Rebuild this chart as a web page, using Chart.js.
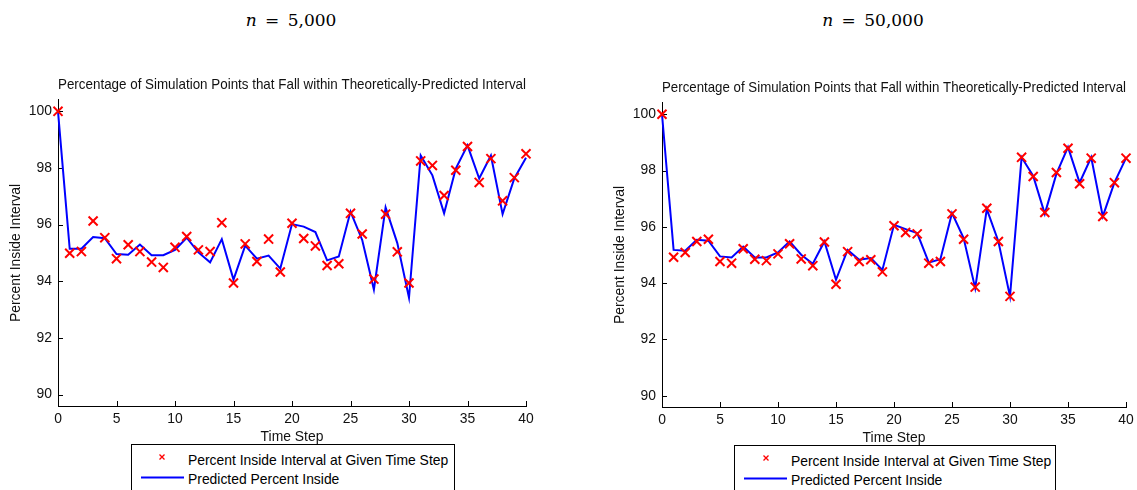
<!DOCTYPE html>
<html>
<head>
<meta charset="utf-8">
<script src="https://cdn.jsdelivr.net/npm/chart.js@4.4.1/dist/chart.umd.min.js"></script>
<style>
    body { margin: 0; background: #fff; width: 1137px; height: 490px; overflow: hidden; position: relative; font-family: "Liberation Sans", Arial, sans-serif; }
    canvas { position: absolute; }
    .nlabel { position: absolute; top: 10px; width: 200px; text-align: center; font-family: "DejaVu Serif", serif; font-size: 17px; color: #000; word-spacing: 3px; }
    .legend { position: absolute; border: 1px solid #000; height: 52px; font-size: 13.9px; line-height: 16px; color: #000; background: #fff; }
    .legend .row { position: absolute; left: 56px; white-space: nowrap; }
    .legend svg { position: absolute; }
</style>
</head>
<body>
<div class="nlabel" style="left:191px"><i>n</i> = 5,000</div>
<div class="nlabel" style="left:773px"><i>n</i> = 50,000</div>

<canvas id="chart5k" width="584" height="380" style="left:0px;top:70px"></canvas>
<canvas id="chart50k" width="580" height="378" style="left:604px;top:73px"></canvas>

<div class="legend" style="left:131px;top:444px;width:322px">
    <svg style="left:27px;top:9px" width="6" height="6"><path d="M0.5 0.5L5.5 5.5M5.5 0.5L0.5 5.5" stroke="#ff0000" stroke-width="1.3"/></svg>
    <div class="row" style="top:7px">Percent Inside Interval at Given Time Step</div>
    <svg style="left:9px;top:31px" width="43" height="3"><line x1="0" y1="1.5" x2="43" y2="1.5" stroke="#0000ff" stroke-width="2"/></svg>
    <div class="row" style="top:26px">Predicted Percent Inside</div>
</div>
<div class="legend" style="left:734px;top:445px;width:320px">
    <svg style="left:28px;top:9px" width="6" height="6"><path d="M0.5 0.5L5.5 5.5M5.5 0.5L0.5 5.5" stroke="#ff0000" stroke-width="1.3"/></svg>
    <div class="row" style="top:7px">Percent Inside Interval at Given Time Step</div>
    <svg style="left:9px;top:31px" width="43" height="3"><line x1="0" y1="1.5" x2="43" y2="1.5" stroke="#0000ff" stroke-width="2"/></svg>
    <div class="row" style="top:26px">Predicted Percent Inside</div>
</div>

<script>
// time steps and tick labels
const timeSteps = [0, 1, 2, 3, 4, 5, 6, 7, 8, 9, 10, 11, 12, 13, 14, 15, 16, 17, 18, 19, 20,
    21, 22, 23, 24, 25, 26, 27, 28, 29, 30, 31, 32, 33, 34, 35, 36, 37, 38, 39, 40];
const xTicks = [0, 5, 10, 15, 20, 25, 30, 35, 40];
const yTicks = [90, 92, 94, 96, 98, 100];

// n = 5,000
const observed5k = [100, 94.99, 95.05, 96.13, 95.54, 94.80, 95.29, 95.05, 94.68, 94.49, 95.20,
    95.58, 95.11, 95.05, 96.07, 93.94, 95.32, 94.70, 95.49, 94.33, 96.05,
    95.51, 95.25, 94.56, 94.62, 96.40, 95.67, 94.08, 96.37, 95.04, 93.94,
    98.25, 98.09, 97.03, 97.92, 98.76, 97.49, 98.33, 96.84, 97.66, 98.50];
const predicted5k = [100, 95.15, 95.15, 95.56, 95.52, 94.96, 94.94, 95.30, 94.92, 94.92, 95.11,
    95.54, 95.02, 94.67, 95.49, 94.06, 95.26, 94.80, 94.91, 94.45, 96.02,
    95.93, 95.74, 94.74, 94.88, 96.46, 95.46, 93.71, 96.61, 95.35, 93.42,
    98.44, 97.74, 96.40, 97.98, 98.80, 97.63, 98.44, 96.37, 97.63, 98.36];

// n = 50,000
const observed50k = [100, 94.92, 95.09, 95.48, 95.56, 94.77, 94.71, 95.22, 94.85, 94.80, 95.04,
    95.40, 94.86, 94.62, 95.46, 93.96, 95.12, 94.77, 94.83, 94.40, 96.04,
    95.80, 95.75, 94.71, 94.77, 96.46, 95.56, 93.86, 96.66, 95.48, 93.53,
    98.47, 97.79, 96.51, 97.93, 98.79, 97.53, 98.44, 96.37, 97.57, 98.44];
const predicted50k = [100, 95.18, 95.15, 95.54, 95.51, 94.95, 94.91, 95.30, 94.91, 94.91, 95.09,
    95.48, 95.01, 94.69, 95.48, 94.12, 95.18, 94.83, 94.89, 94.47, 96.07,
    95.92, 95.78, 94.73, 94.85, 96.49, 95.60, 93.82, 96.63, 95.48, 93.53,
    98.47, 97.81, 96.46, 97.88, 98.83, 97.57, 98.47, 96.37, 97.57, 98.44];

const titleText = "Percentage of Simulation Points that Fall within Theoretically-Predicted Interval";
const font = { family: "'Liberation Sans', Arial, sans-serif", size: 13.9 };

// MATLAB-style ticks pointing into the plot
const inwardTicks = {
    id: "inwardTicks",
    beforeDatasetsDraw(chart) {
        const { ctx } = chart;
        const x = chart.scales.x;
        const y = chart.scales.y;
        ctx.save();
        ctx.strokeStyle = "#000";
        ctx.lineWidth = 1;
        ctx.beginPath();
        x.ticks.forEach((t) => {
            const px = Math.round(x.getPixelForValue(t.value)) + 0.5;
            ctx.moveTo(px, x.top);
            ctx.lineTo(px, x.top - 5);
        });
        y.ticks.forEach((t) => {
            const py = Math.round(y.getPixelForValue(t.value)) + 0.5;
            ctx.moveTo(y.right, py);
            ctx.lineTo(y.right + 5, py);
        });
        ctx.stroke();
        ctx.restore();
    },
};

function makeChart(id, observed, predicted) {
    const ctx = document.getElementById(id).getContext("2d");
    return new Chart(ctx, {
        type: "line",
        data: {
            datasets: [
                {
                    label: "Percent Inside Interval at Given Time Step",
                    data: timeSteps.map((t, i) => ({ x: t, y: observed[i] })),
                    showLine: false,
                    pointStyle: "crossRot",
                    pointRadius: 6.4,
                    pointHoverRadius: 6.4,
                    pointBorderColor: "#ff0000",
                    pointBackgroundColor: "#ff0000",
                    pointBorderWidth: 2,
                    clip: false,
                },
                {
                    label: "Predicted Percent Inside",
                    data: timeSteps.map((t, i) => ({ x: t, y: predicted[i] })),
                    borderColor: "#0000ff",
                    borderWidth: 2,
                    pointRadius: 0,
                    tension: 0,
                    clip: false,
                },
            ],
        },
        options: {
            responsive: false,
            animation: false,
            events: [],
            devicePixelRatio: 1,
            layout: { padding: { left: 0, right: 58, top: 0, bottom: 0 } },
            plugins: {
                legend: { display: false },
                tooltip: { enabled: false },
                title: {
                    display: true,
                    fullSize: false,
                    text: titleText,
                    color: "#111",
                    font: { ...font, weight: "normal" },
                    padding: { top: 7, bottom: 6.3 },
                },
            },
            scales: {
                x: {
                    type: "linear",
                    min: 0,
                    max: 40,
                    afterBuildTicks: (s) => { s.ticks = xTicks.map((v) => ({ value: v })); },
                    afterFit: (s) => { s.height = 44; },
                    grid: { display: false, drawTicks: false },
                    border: { display: true, color: "#000", width: 1 },
                    ticks: { color: "#111", font: font, padding: 5, maxRotation: 0 },
                    title: { display: true, text: "Time Step", color: "#111", font: font, padding: { top: 0, bottom: 4.3 } },
                },
                y: {
                    min: 89.6,
                    max: 100.4,
                    afterBuildTicks: (s) => { s.ticks = yTicks.map((v) => ({ value: v })); },
                    afterFit: (s) => { s.width = 58; },
                    grid: { display: false, drawTicks: false },
                    border: { display: true, color: "#000", width: 1 },
                    ticks: { color: "#111", font: font, padding: 6 },
                    title: { display: true, text: "Percent Inside Interval", color: "#111", font: font, padding: { top: 7.6, bottom: 0 } },
                },
            },
        },
        plugins: [inwardTicks],
    });
}

document.addEventListener("DOMContentLoaded", function () {
    makeChart("chart5k", observed5k, predicted5k);
    makeChart("chart50k", observed50k, predicted50k);
});
</script>
</body>
</html>
